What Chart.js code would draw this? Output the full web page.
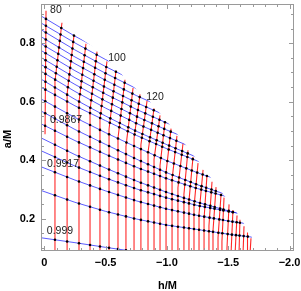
<!DOCTYPE html>
<html>
<head>
<meta charset="utf-8">
<script src="https://cdn.jsdelivr.net/npm/chart.js@4.4.1/dist/chart.umd.min.js"></script>
<style>
  html, body { margin: 0; padding: 0; background: #fff; }
  canvas { display: block; }
</style>
</head>
<body>
<canvas id="chart" width="301" height="291"></canvas>
<script>
// red lines (constant frequency), each one bottom -> knee -> top on the edge
var redBottomH = [-0.006, -0.087, -0.186, -0.283, -0.373, -0.454, -0.528, -0.601, -0.666, -0.732, -0.788,
  -0.846, -0.895, -0.944, -0.993, -1.042, -1.090, -1.139, -1.180, -1.221, -1.262, -1.303, -1.343,
  -1.376, -1.417, -1.449, -1.490, -1.523, -1.556, -1.588, -1.621, -1.654, -1.678];
var redBottomA = [0.489, 0.08, 0.08, 0.08, 0.08, 0.08, 0.08, 0.08, 0.08, 0.08, 0.08, 0.08, 0.08, 0.08,
  0.08, 0.08, 0.08, 0.08, 0.08, 0.08, 0.08, 0.08, 0.08, 0.08, 0.08, 0.08, 0.08, 0.08, 0.08, 0.08,
  0.08, 0.08, 0.08];
var redKneeA = [0.489, 0.670, 0.626, 0.598, 0.571, 0.538, 0.506, 0.475, 0.447, 0.475, 0.453, 0.427,
  0.403, 0.382, 0.358, 0.333, 0.306, 0.284, 0.261, 0.240, 0.217, 0.199, 0.176, 0.158, 0.135, 0.122,
  0.099, 0.080, 0.08, 0.08, 0.08, 0.08, 0.08];
var redTopH = [-0.014, -0.144, -0.242, -0.340, -0.430, -0.511, -0.585, -0.658, -0.724, -0.781, -0.838,
  -0.895, -0.944, -0.985, -1.034, -1.082, -1.131, -1.172, -1.213, -1.254, -1.295, -1.327, -1.368,
  -1.401, -1.442, -1.466, -1.507, -1.539, -1.572, -1.596, -1.629, -1.661, -1.686];
var redTopA = [0.911, 0.870, 0.826, 0.798, 0.771, 0.738, 0.706, 0.675, 0.647, 0.625, 0.603, 0.577,
  0.553, 0.532, 0.508, 0.483, 0.456, 0.434, 0.411, 0.390, 0.367, 0.349, 0.326, 0.308, 0.285, 0.272,
  0.249, 0.230, 0.211, 0.196, 0.174, 0.153, 0.133];

// blue lines: a/M read at these h/M columns (cut off at the upper edge when drawn)
var blueColumnsH = [0.03, -0.25, -0.5, -0.75, -1.0, -1.25, -1.5, -1.75];
var blueA = [
  [0.894, 0.824, 0.768],
  [0.870, 0.801, 0.744, 0.692],
  [0.847, 0.777, 0.720, 0.668],
  [0.823, 0.753, 0.697, 0.645, 0.598],
  [0.799, 0.730, 0.673, 0.621, 0.574],
  [0.776, 0.706, 0.649, 0.597, 0.551, 0.507],
  [0.752, 0.682, 0.626, 0.574, 0.527, 0.483],
  [0.728, 0.659, 0.602, 0.550, 0.503, 0.460],
  [0.705, 0.635, 0.578, 0.526, 0.480, 0.436, 0.395],
  [0.678, 0.608, 0.551, 0.499, 0.453, 0.409, 0.368],
  [0.650, 0.586, 0.535, 0.485, 0.439, 0.397, 0.361],
  [0.610, 0.546, 0.494, 0.445, 0.398, 0.357, 0.321],
  [0.569, 0.505, 0.454, 0.404, 0.357, 0.316, 0.280, 0.249],
  [0.525, 0.467, 0.420, 0.376, 0.337, 0.303, 0.274, 0.248],
  [0.477, 0.419, 0.373, 0.329, 0.290, 0.256, 0.227, 0.201],
  [0.433, 0.380, 0.339, 0.302, 0.271, 0.245, 0.225, 0.206],
  [0.378, 0.332, 0.295, 0.261, 0.233, 0.211, 0.192, 0.177],
  [0.297, 0.256, 0.225, 0.199, 0.178, 0.163, 0.147, 0.134],
  [0.135, 0.118, 0.102, 0.087]
];

var lineLabels = ['80', '100', '120', '0.9867', '0.9917', '0.999'];
var lineLabelH = [-0.095, -0.593, -0.903, -0.177, -0.152, -0.128];
var lineLabelA = [0.914, 0.749, 0.617, 0.536, 0.387, 0.157];

var xTickValues = [0, -0.5, -1, -1.5, -2];
var xTickLabels = ['0', '\u22120.5', '\u22121.0', '\u22121.5', '\u22122.0'];
var yTickValues = [0.2, 0.4, 0.6, 0.8];
var yTickLabels = ['0.2', '0.4', '0.6', '0.8'];

var xMin = -2.0367, xMax = 0.0269, yMin = 0.0895, yMax = 0.934;

function crossings(p, q) {
  var out = [];
  for (var i = 0; i < p.length - 1; i++) {
    for (var k = 0; k < q.length - 1; k++) {
      var x1 = p[i].x, y1 = p[i].y, x2 = p[i + 1].x, y2 = p[i + 1].y;
      var x3 = q[k].x, y3 = q[k].y, x4 = q[k + 1].x, y4 = q[k + 1].y;
      var d = (x2 - x1) * (y4 - y3) - (y2 - y1) * (x4 - x3);
      if (d === 0) continue;
      var t = ((x3 - x1) * (y4 - y3) - (y3 - y1) * (x4 - x3)) / d;
      var u = ((x3 - x1) * (y2 - y1) - (y3 - y1) * (x2 - x1)) / d;
      if (t >= 0 && t <= 1 && u >= 0 && u <= 1) out.push({x: x1 + t * (x2 - x1), y: y1 + t * (y2 - y1)});
    }
  }
  return out;
}

var redLines = redBottomH.map(function (hb, i) {
  return [{x: hb, y: redBottomA[i]}, {x: hb, y: redKneeA[i]}, {x: redTopH[i], y: redTopA[i]}];
});
var blueLines = blueA.map(function (row) {
  return row.map(function (a, k) { return {x: blueColumnsH[k], y: a}; });
});

var dots = [];
redLines.forEach(function (r) {
  blueLines.forEach(function (b) { dots = dots.concat(crossings(r, b)); });
});

var datasets = [{
  kind: 'dots', data: dots, showLine: false, pointRadius: 1.3, pointBorderWidth: 0,
  pointBackgroundColor: '#000', clip: 0, order: 0
}];
redLines.forEach(function (pts) {
  datasets.push({kind: 'red', data: pts, showLine: true, borderColor: 'rgba(255,0,0,0.85)',
    borderWidth: 1.1, pointRadius: 0, order: 1});
});
blueLines.forEach(function (pts) {
  datasets.push({kind: 'blue', data: pts, showLine: true, borderColor: 'rgba(40,40,255,0.85)',
    borderWidth: 0.9, pointRadius: 0, order: 2});
});

// blue lines stop at the upper edge of the mesh (the red line tops)
var mesh = {
  id: 'mesh',
  beforeDatasetsDraw: function (chart) {
    var ctx = chart.ctx, xs = chart.scales.x, ys = chart.scales.y, ca = chart.chartArea;
    var n = redTopH.length;
    ctx.save();
    ctx.beginPath();
    ctx.moveTo(ca.left, ca.top);
    ctx.lineTo(xs.getPixelForValue(redTopH[0]) + 1, ca.top);
    for (var i = 0; i < n; i++) {
      ctx.lineTo(xs.getPixelForValue(redTopH[i]) + 1, ys.getPixelForValue(redTopA[i]) - 1);
    }
    ctx.lineTo(xs.getPixelForValue(redTopH[n - 1]) + 1, ca.bottom);
    ctx.lineTo(ca.left, ca.bottom);
    ctx.closePath();
    ctx.clip();
  },
  afterDatasetsDraw: function (chart) {
    chart.ctx.restore();
  },
  afterDraw: function (chart) {
    var ctx = chart.ctx, xs = chart.scales.x, ys = chart.scales.y, ca = chart.chartArea;
    ctx.save();
    ctx.strokeStyle = '#9a9a9a';
    ctx.lineWidth = 1;
    ctx.strokeRect(ca.left + 0.5, ca.top + 0.5, ca.right - ca.left - 1, ca.bottom - ca.top - 1);
    ctx.beginPath();
    var v, p, len;
    for (v = -20; v <= 0; v++) {
      p = Math.round(xs.getPixelForValue(v / 10)) + 0.5;
      len = v % 5 === 0 ? 5 : 3;
      ctx.moveTo(p, ca.bottom); ctx.lineTo(p, ca.bottom - len);
      ctx.moveTo(p, ca.top); ctx.lineTo(p, ca.top + len);
    }
    for (v = 2; v <= 18; v++) {
      p = Math.round(ys.getPixelForValue(v / 20)) + 0.5;
      len = v % 4 === 0 ? 5 : 3;
      ctx.moveTo(ca.left, p); ctx.lineTo(ca.left + len, p);
      ctx.moveTo(ca.right, p); ctx.lineTo(ca.right - len, p);
    }
    ctx.stroke();

    ctx.fillStyle = '#222';
    ctx.font = '10.5px "Liberation Sans", Arial, sans-serif';
    ctx.textAlign = 'center';
    ctx.textBaseline = 'middle';
    lineLabels.forEach(function (t, i) {
      ctx.fillText(t, xs.getPixelForValue(lineLabelH[i]), ys.getPixelForValue(lineLabelA[i]));
    });

    ctx.fillStyle = '#000';
    ctx.font = 'bold 11px "Liberation Sans", Arial, sans-serif';
    ctx.translate(8, 139);
    ctx.rotate(-Math.PI / 2);
    ctx.fillText('a/M', 0, 0);
    ctx.restore();
  }
};

var tickFont = {family: '"Liberation Sans", Arial, sans-serif', size: 11, weight: 'bold'};

new Chart(document.getElementById('chart').getContext('2d'), {
  type: 'scatter',
  data: {datasets: datasets},
  options: {
    responsive: false,
    animation: false,
    devicePixelRatio: 1,
    layout: {padding: {top: 1, right: 7, left: 0, bottom: 0}},
    plugins: {legend: {display: false}, tooltip: {enabled: false}},
    scales: {
      x: {
        type: 'linear', min: xMin, max: xMax, reverse: true,
        grid: {display: false, drawTicks: false}, border: {display: false},
        afterBuildTicks: function (s) { s.ticks = xTickValues.map(function (v) { return {value: v}; }); },
        afterFit: function (s) { s.height = 40; s.paddingLeft = 0; s.paddingRight = 0; },
        ticks: {
          font: tickFont, color: '#000', padding: 5, maxRotation: 0, autoSkip: false,
          callback: function (v, i) { return xTickLabels[i]; }
        },
        title: {display: true, text: 'h/M', color: '#000', font: tickFont, padding: {top: 0, bottom: -2}}
      },
      y: {
        type: 'linear', min: yMin, max: yMax,
        grid: {display: false, drawTicks: false}, border: {display: false},
        afterBuildTicks: function (s) { s.ticks = yTickValues.map(function (v) { return {value: v}; }); },
        afterFit: function (s) { s.width = 41; s.paddingTop = 0; s.paddingBottom = 0; },
        ticks: {
          font: tickFont, color: '#000', padding: 6, autoSkip: false,
          callback: function (v, i) { return yTickLabels[i]; }
        }
      }
    }
  },
  plugins: [mesh]
});
</script>
</body>
</html>
